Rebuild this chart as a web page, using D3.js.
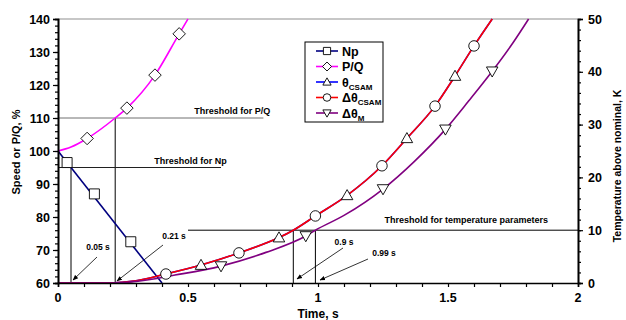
<!DOCTYPE html>
<html>
<head>
<meta charset="utf-8">
<script src="https://cdn.jsdelivr.net/npm/d3@7"></script>
<style>
	body { margin: 0; background: #fff; }
	svg text { font-family: "Liberation Sans", Arial, sans-serif; font-weight: bold; }
</style>
</head>
<body>
<div id="chart"></div>
<script>

// time (s) and values
var npTime   = [0, 0.4];
var npValue  = [100, 60];
var npMarkT  = [0.035, 0.14, 0.28];
var npMarkV  = [96.5, 87, 72.5];

var pqTime   = [0, 0.05, 0.112, 0.22, 0.265, 0.373, 0.466, 0.5];
var pqValue  = [100, 101.2, 103.8, 110, 113, 123, 135.5, 140];
var pqMarkT  = [0.112, 0.265, 0.373, 0.466];
var pqMarkV  = [103.8, 113, 123, 135.5];

var csamTime  = [0, 0.2, 0.3, 0.415, 0.55, 0.696, 0.85, 0.905, 0.99, 1.112, 1.246, 1.342, 1.45, 1.527, 1.6, 1.67];
var csamValue = [0, 0, 0.4, 1.7, 3.4, 5.7, 8.6, 10, 12.7, 16.6, 22.2, 27.4, 33.5, 39.2, 44.9, 50];
var thetaMarkT = [0.55, 0.85, 1.112, 1.342, 1.527];
var thetaMarkV = [3.4, 8.6, 16.6, 27.4, 39.2];
var dThetaMarkT = [0.415, 0.696, 0.99, 1.246, 1.45, 1.6];
var dThetaMarkV = [1.7, 5.7, 12.7, 22.2, 33.5, 44.9];

var mTime   = [0, 0.2, 0.3, 0.45, 0.627, 0.8, 0.953, 0.99, 1.1, 1.25, 1.37, 1.49, 1.58, 1.67, 1.75, 1.81];
var mValue  = [0, 0, 0.3, 1.5, 3.2, 5.8, 8.9, 10, 12.8, 17.8, 23, 29.1, 34.5, 40.1, 45.5, 50];
var mMarkT  = [0.627, 0.953, 1.25, 1.49, 1.67];
var mMarkV  = [3.2, 8.9, 17.8, 29.1, 40.1];

var xTicks     = [0, 0.5, 1, 1.5, 2];
var leftTicks  = [60, 70, 80, 90, 100, 110, 120, 130, 140];
var rightTicks = [0, 10, 20, 30, 40, 50];

var legendNames = ["Np", "P/Q", "θ|CSAM", "Δθ|CSAM", "Δθ|M"];
var legendColors = ["#000080", "#ff00ff", "#0000ff", "#ff0000", "#800080"];
var legendMarkers = ["square", "diamond", "triangle", "circle", "down"];

var W = 626, H = 320;
var pLeft = 58, pRight = 578, pTop = 19, pBottom = 283;

var svg = d3.select("#chart").append("svg")
	.attr("width", W)
	.attr("height", H);

var x  = d3.scaleLinear().domain([0, 2]).range([pLeft, pRight]);
var yL = d3.scaleLinear().domain([60, 140]).range([pBottom, pTop]);
var yR = d3.scaleLinear().domain([0, 50]).range([pBottom, pTop]);

// top border
svg.append("line")
	.attr("x1", pLeft).attr("y1", pTop)
	.attr("x2", pRight).attr("y2", pTop)
	.attr("stroke", "#909090").attr("stroke-width", 1.2);

// thresholds
function seg(x1, y1, x2, y2, color) {
	svg.append("line")
		.attr("x1", x1).attr("y1", y1)
		.attr("x2", x2).attr("y2", y2)
		.attr("stroke", color || "#000")
		.attr("stroke-width", 1);
}

seg(x(0), yL(110), x(0.79), yL(110), "#707070");
seg(x(0.22), yL(110), x(0.22), yL(60));
seg(x(0), yL(95), x(0.627), yL(95), "#202020");
seg(x(0.05), yL(95), x(0.05), yL(60));
seg(x(0.5), yR(10), x(2), yR(10));
seg(x(0.905), yR(10), x(0.905), yR(0));
seg(x(0.99), yR(10), x(0.99), yR(0));

function label(tx, ty, s, size) {
	svg.append("text")
		.attr("x", tx).attr("y", ty)
		.attr("text-anchor", "middle")
		.attr("font-size", size || 9)
		.text(s);
}

label(x(0.67), yL(110) - 4, "Threshold for P/Q");
label(x(0.51), yL(95) - 4, "Threshold for Np");
label(x(1.57), yR(10) - 7, "Threshold for temperature parameters");

// arrows
svg.append("defs").append("marker")
	.attr("id", "arr")
	.attr("viewBox", "0 0 10 10")
	.attr("refX", 9).attr("refY", 5)
	.attr("markerWidth", 7).attr("markerHeight", 7)
	.attr("orient", "auto")
	.append("path")
	.attr("d", "M0,1 L10,5 L0,9 z")
	.attr("fill", "#000");

function arrow(x1, y1, x2, y2) {
	svg.append("line")
		.attr("x1", x1).attr("y1", y1)
		.attr("x2", x2).attr("y2", y2)
		.attr("stroke", "#000").attr("stroke-width", 0.8)
		.attr("marker-end", "url(#arr)");
}

label(98, 250, "0.05 s", 8.5);
arrow(97, 257, 73, 280);
label(174, 239, "0.21 s", 8.5);
arrow(163, 245, 117, 281);
label(344, 245, "0.9 s", 8.5);
arrow(343, 248, 297, 279);
label(384, 256, "0.99 s", 8.5);
arrow(368, 259, 320, 280);

// series
var line = d3.line().curve(d3.curveMonotoneX);

function curve(ts, vs, scale, color) {
	svg.append("path")
		.attr("d", line(ts.map(function(t, i) { return [x(t), scale(vs[i])]; })))
		.attr("fill", "none")
		.attr("stroke", color)
		.attr("stroke-width", 1.6);
}

var sym = {
	square:   function(s) { return "M" + (-s) + "," + (-s) + "h" + 2*s + "v" + 2*s + "h" + (-2*s) + "z"; },
	diamond:  function(s) { s = s * 1.25; return "M0," + (-s) + "L" + s + ",0L0," + s + "L" + (-s) + ",0z"; },
	triangle: function(s) { s = s * 1.15; return "M0," + (-s) + "L" + s + "," + (s*0.75) + "L" + (-s) + "," + (s*0.75) + "z"; },
	down:     function(s) { s = s * 1.15; return "M0," + s + "L" + s + "," + (-s*0.75) + "L" + (-s) + "," + (-s*0.75) + "z"; },
	circle:   function(s) { s = s * 1.05; return "M" + s + ",0A" + s + "," + s + " 0 1,1 " + (-s) + ",0A" + s + "," + s + " 0 1,1 " + s + ",0z"; }
};

function marks(ts, vs, scale, kind) {
	svg.append("g").selectAll("path")
		.data(ts)
		.enter().append("path")
		.attr("transform", function(t, i) { return "translate(" + x(t) + "," + scale(vs[i]) + ")"; })
		.attr("d", sym[kind](5))
		.attr("fill", "#fff")
		.attr("stroke", "#000")
		.attr("stroke-width", 0.9);
}

curve(npTime, npValue, yL, legendColors[0]);
curve(pqTime, pqValue, yL, legendColors[1]);
curve(csamTime, csamValue, yR, legendColors[2]);
curve(csamTime, csamValue, yR, legendColors[3]);
curve(mTime, mValue, yR, legendColors[4]);

marks(npMarkT, npMarkV, yL, "square");
marks(pqMarkT, pqMarkV, yL, "diamond");
marks(thetaMarkT, thetaMarkV, yR, "triangle");
marks(dThetaMarkT, dThetaMarkV, yR, "circle");
marks(mMarkT, mMarkV, yR, "down");

// axes
svg.append("g")
	.attr("transform", "translate(0," + pBottom + ")")
	.call(d3.axisBottom(x).tickValues(d3.range(0, 2.01, 0.1)).tickSize(4).tickFormat(""));
svg.append("g").selectAll("text")
	.data(xTicks).enter().append("text")
	.attr("x", function(d) { return x(d); })
	.attr("y", pBottom + 19)
	.attr("text-anchor", "middle")
	.attr("font-size", 12.5)
	.text(function(d) { return d; });

svg.append("g")
	.attr("transform", "translate(" + pLeft + ",0)")
	.call(d3.axisLeft(yL).tickValues(d3.range(60, 140.1, 2)).tickSize(3).tickFormat(""));
svg.append("g")
	.attr("transform", "translate(" + pLeft + ",0)")
	.call(d3.axisLeft(yL).tickValues(leftTicks).tickSize(5).tickPadding(3));

svg.append("g")
	.attr("transform", "translate(" + pRight + ",0)")
	.call(d3.axisRight(yR).tickValues(d3.range(0, 50.1, 2)).tickSize(3).tickFormat(""));
svg.append("g")
	.attr("transform", "translate(" + pRight + ",0)")
	.call(d3.axisRight(yR).tickValues(rightTicks).tickSize(5).tickPadding(5));

svg.selectAll(".domain").attr("stroke", "#000").attr("stroke-width", 1.6);
svg.selectAll(".tick line").attr("stroke", "#000").attr("stroke-width", 1.2);
svg.selectAll(".tick text")
	.attr("font-size", 12.5)
	.attr("font-family", "Liberation Sans, Arial, sans-serif")
	.attr("font-weight", "bold")
	.attr("fill", "#000");

// axis titles
svg.append("text")
	.attr("x", (pLeft + pRight) / 2).attr("y", 318)
	.attr("text-anchor", "middle")
	.attr("font-size", 12)
	.text("Time, s");

svg.append("text")
	.attr("transform", "translate(20,152) rotate(-90)")
	.attr("text-anchor", "middle")
	.attr("font-size", 11)
	.text("Speed or P/Q, %");

svg.append("text")
	.attr("transform", "translate(621,166) rotate(-90)")
	.attr("text-anchor", "middle")
	.attr("font-size", 10.5)
	.text("Temperature above nominal, K");

// legend
var lg = svg.append("g").attr("transform", "translate(305,42)");
lg.append("rect")
	.attr("width", 78).attr("height", 80)
	.attr("fill", "#fff")
	.attr("stroke", "#000")
	.attr("stroke-width", 1);

legendNames.forEach(function(name, i) {
	var cy = 9 + i * 15.5;
	lg.append("line")
		.attr("x1", 11).attr("x2", 33)
		.attr("y1", cy).attr("y2", cy)
		.attr("stroke", legendColors[i])
		.attr("stroke-width", 1.6);
	lg.append("path")
		.attr("transform", "translate(22," + cy + ")")
		.attr("d", sym[legendMarkers[i]](3.6))
		.attr("fill", "#fff")
		.attr("stroke", "#000")
		.attr("stroke-width", 0.9);
	var parts = name.split("|");
	var t = lg.append("text")
		.attr("x", 37).attr("y", cy + 4.5)
		.attr("font-size", 12.5);
	t.append("tspan").text(parts[0]);
	if (parts[1]) {
		t.append("tspan")
			.attr("font-size", 8)
			.attr("dy", 3)
			.text(parts[1]);
	}
});

</script>
</body>
</html>
